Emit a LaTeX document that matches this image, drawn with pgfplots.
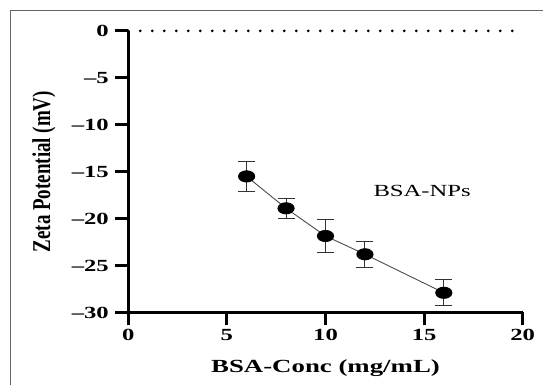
\documentclass[border=0pt]{standalone}
\usepackage{fontspec}
\setmainfont{Liberation Serif}[FakeStretch=1.45]
\newfontfamily\plainserif{Liberation Serif}
\usepackage{graphicx}
\usepackage{pgfplots}
\pgfplotsset{compat=1.18}
\begin{document}
\begin{tikzpicture}[x=1pt,y=1pt]
\useasboundingbox (0,0) rectangle (543,385);
\draw[gray!80!black, line width=1pt] (10,0) -- (10,374) -- (543,374);
\begin{axis}[
  at={(128.3pt,72.5pt)}, anchor=south west,
  scale only axis, width=394.4pt, height=281.6pt,
  xmin=0, xmax=20, ymin=-30, ymax=0,
  axis x line=bottom, axis y line=left,
  axis line style={-, line width=3pt},
  xtick={0,5,10,15,20},
  ytick={-30,-25,-20,-15,-10,-5,0},
  yticklabels={\textendash30,\textendash25,\textendash20,\textendash15,\textendash10,\textendash5,0},
  tick align=outside,
  major tick length=13pt,
  tick style={line width=3pt, black},
  /pgf/number format/assume math mode=true,
  tick label style={font=\bfseries\fontsize{17}{17}\selectfont},
  yticklabel style={xshift=-3pt},
  xlabel={BSA-Conc (mg/mL)},
  ylabel={\scalebox{1}[1.35]{\plainserif\bfseries\fontsize{19}{19}\selectfont Zeta Potential (mV)}},
  x label style={font=\bfseries\fontsize{18.5}{18.5}\selectfont, at={(axis description cs:0.5,-0.199)}, anchor=center},
  y label style={at={(axis description cs:-0.214,0.5)}, anchor=center},
  clip=false,
]
\addplot[black, line width=3pt, dash pattern=on 0pt off 12pt, line cap=round] coordinates {(0,0) (20,0)};
\addplot[gray!60!black, line width=0.9pt, mark=*,
  mark options={solid, fill=black, draw=black, xscale=1.45, mark size=5.6pt},
  error bars/.cd, y dir=both, y explicit, error mark=|,
  error bar style={line width=0.9pt, black!80},
  error mark options={mark size=8.5pt, line width=0.9pt, black!80}]
  coordinates {
  (6,-15.5) +- (0,1.6)
  (8,-18.9) +- (0,1.05)
  (10,-21.85) +- (0,1.8)
  (12,-23.8) +- (0,1.4)
  (16,-27.9) +- (0,1.4)
  };
\node[font=\fontsize{17}{17}\selectfont] at (axis cs:14.9,-17.1) {BSA-NPs};
\end{axis}
\end{tikzpicture}
\end{document}
